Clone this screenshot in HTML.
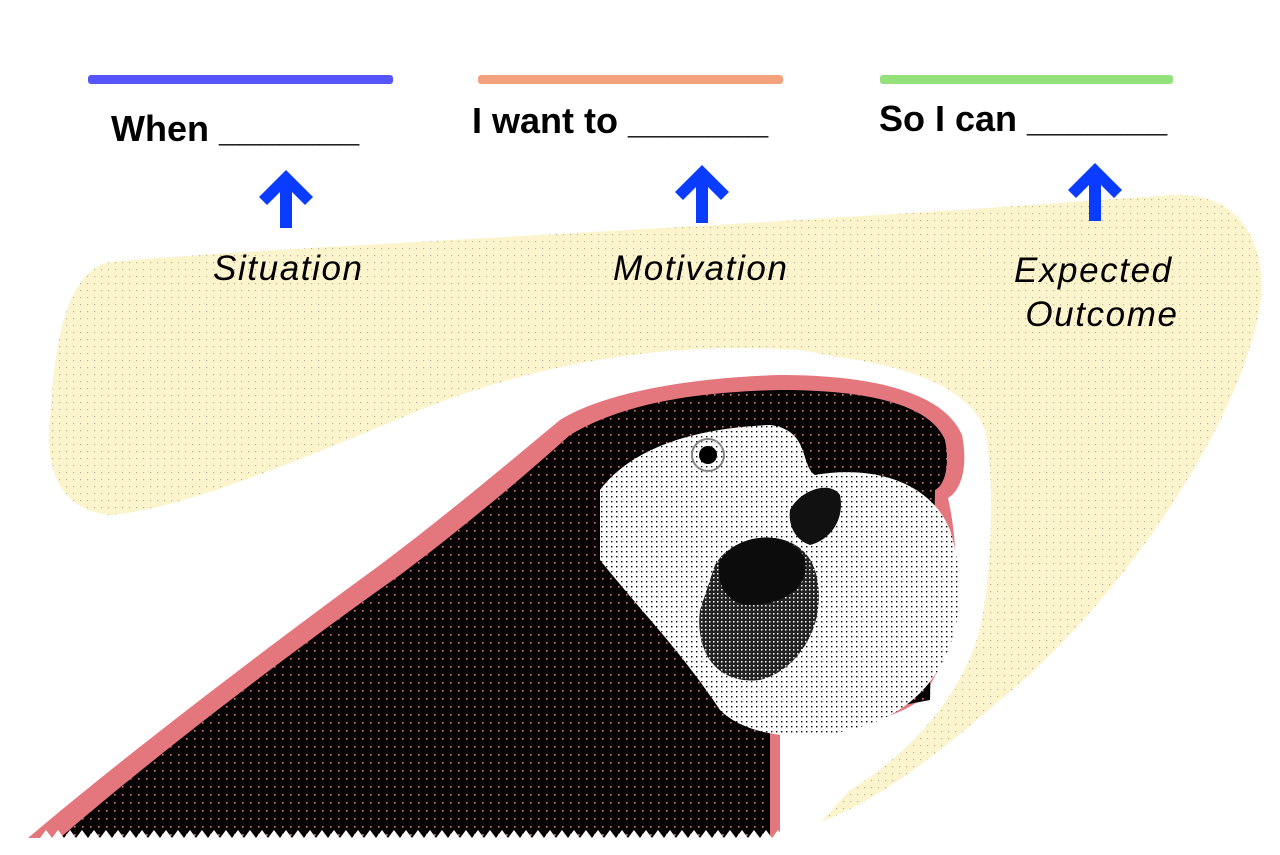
<!DOCTYPE html>
<html><head><meta charset="utf-8"><style>
body{margin:0;width:1280px;height:855px;background:#fff;overflow:hidden;position:relative;font-family:"Liberation Sans",sans-serif}
.t{position:absolute;font-weight:bold;font-size:36px;color:#000;white-space:nowrap}
.i{position:absolute;font-style:italic;font-size:35px;letter-spacing:1.6px;color:#000;white-space:nowrap}
</style></head><body>
<svg width="1280" height="855" style="position:absolute;left:0;top:0">
<defs>
<pattern id="dots" width="7" height="7" patternUnits="userSpaceOnUse"><rect width="7" height="7" fill="#fcf4cc"/><rect x="3" y="3" width="1.2" height="1.2" fill="#b8b49a"/></pattern>
<pattern id="pd" width="8" height="8" patternUnits="userSpaceOnUse"><rect width="8" height="8" fill="#050203"/><rect x="2" y="2" width="1.6" height="1.6" fill="#e07a80"/></pattern>
<pattern id="wd" width="5" height="5" patternUnits="userSpaceOnUse"><rect width="5" height="5" fill="#fff"/><rect x="1" y="1" width="1.4" height="1.4" fill="#000"/></pattern>
<pattern id="gd" width="4" height="4" patternUnits="userSpaceOnUse"><rect width="4" height="4" fill="#222"/><rect x="1" y="1" width="1.5" height="1.5" fill="#fff"/></pattern>
<pattern id="zz" x="40" y="828" width="12" height="27" patternUnits="userSpaceOnUse"><path d="M0,10 L6,2 L12,10 L12,27 L0,27Z" fill="#fff"/></pattern>
</defs>
<path d="M110,262 C300,245 700,230 1170,195 C1250,190 1275,260 1255,330 C1220,460 1100,620 1000,700 C920,770 850,820 790,830 L790,600 L950,500 C960,430 930,370 800,350 C650,340 520,370 420,410 C300,460 180,510 110,515 C60,510 45,470 50,420 C55,330 70,270 110,262Z" fill="url(#dots)"/>
<path d="M15,845 C150,720 330,580 470,480 C540,420 600,370 700,355 C800,345 960,360 985,430 C995,480 992,560 982,620 C965,700 900,760 850,790 L800,845Z" fill="#fff"/>
<path d="M28,838 C120,760 250,660 380,565 C440,520 500,470 560,420 C600,395 680,378 780,375 C880,375 945,395 962,435 C968,465 962,490 948,498 C962,560 960,650 920,700 C880,730 800,730 780,735 L780,838Z" fill="#e4777d"/>
<path d="M60,838 C150,760 280,660 400,575 C460,530 520,480 570,435 C620,405 690,392 780,390 C870,390 930,405 945,440 C950,465 945,485 935,490 L930,700 L770,730 L770,838Z" fill="url(#pd)"/>
<path d="M600,490 C630,450 690,428 770,425 C810,430 800,465 815,475 C870,465 930,480 950,530 C975,610 950,690 880,720 C820,745 750,740 720,710 C680,650 640,610 600,560Z" fill="url(#wd)"/>
<path d="M790,510 C800,490 830,480 840,495 C845,520 830,540 810,545 C795,540 788,525 790,510Z" fill="#111"/>
<path d="M715,565 C735,530 800,525 815,570 C830,620 800,670 760,680 C715,685 695,650 700,610Z" fill="url(#gd)"/>
<path d="M720,560 C740,530 795,530 805,560 C810,590 780,605 750,605 C725,605 715,580 720,560Z" fill="#0c0c0c"/>
<circle cx="708" cy="455" r="9" fill="#000"/>
<circle cx="708" cy="455" r="16" fill="none" stroke="#888" stroke-width="2"/>
<rect x="40" y="828" width="740" height="27" fill="url(#zz)"/>
<rect x="88" y="75" width="305" height="9" rx="3" fill="#5555fa"/>
<rect x="478" y="75" width="305" height="9" rx="3" fill="#f4a27e"/>
<rect x="880" y="75" width="293" height="9" rx="3" fill="#94e07a"/>
<g fill="#0a3cff">
<rect x="280" y="185" width="12" height="43"/><path d="M286,170 L313,197 L305,205 L286,186 L267,205 L259,197Z"/>
<rect x="696" y="180" width="12" height="43"/><path d="M702,165 L729,192 L721,200 L702,181 L683,200 L675,192Z"/>
<rect x="1089" y="178" width="12" height="43"/><path d="M1095,163 L1122,190 L1114,198 L1095,179 L1076,198 L1068,190Z"/>
</g>
</svg>
<div class="t" style="left:111px;top:108px">When _______</div>
<div class="t" style="left:472px;top:100px">I want to _______</div>
<div class="t" style="left:879px;top:98px">So I can _______</div>
<div class="i" style="left:213px;top:249px">Situation</div>
<div class="i" style="left:613px;top:249px">Motivation</div>
<div class="i" style="left:1014px;top:249px;line-height:44px">Expected<br>&nbsp;Outcome</div>
</body></html>
